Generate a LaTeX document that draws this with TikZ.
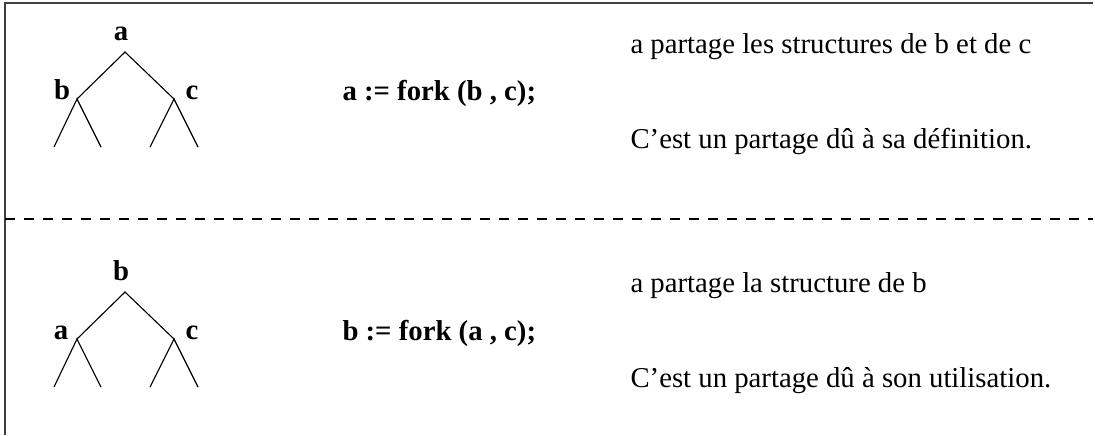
\documentclass[tikz,border=0pt]{standalone}
\usepackage{fontspec}
\setmainfont{Liberation Serif}
\begin{document}
\begin{tikzpicture}[x=0.4pt,y=-0.4pt,
  edge/.style={line width=0.45pt},
  border/.style={line width=0.8pt,draw=black!75},
  sep/.style={line width=0.6pt,dash pattern=on 4pt off 3.6pt},
  lbl/.style={inner sep=0pt,anchor=base,font=\fontsize{11.5}{14}\selectfont\bfseries},
  code/.style={inner sep=0pt,anchor=base west,font=\fontsize{11.5}{14}\selectfont\bfseries},
  txt/.style={inner sep=0pt,anchor=base west,font=\fontsize{11.5}{14}\selectfont}]
\useasboundingbox (0,0) rectangle (1095,435);
% frame
\coordinate (tl) at (5,3);
\coordinate (tr) at (1093,3);
\coordinate (bl) at (5,435);
\coordinate (sl) at (5,219);
\coordinate (sr) at (1093,219);
\draw[border] (tr) -- (tl) -- (bl);
\draw[sep] (sl) -- (sr);
% top tree
\coordinate (A1) at (125,52);
\coordinate (B1) at (77,99);
\coordinate (C1) at (174,99);
\coordinate (B1l) at (54,147);
\coordinate (B1r) at (101,147);
\coordinate (C1l) at (150,147);
\coordinate (C1r) at (198,147);
\draw[edge] (B1) -- (A1) -- (C1);
\draw[edge] (B1l) -- (B1) -- (B1r);
\draw[edge] (C1l) -- (C1) -- (C1r);
\node[lbl] (la1) at (121,40) {a};
\node[lbl] (lb1) at (62,99) {b};
\node[lbl] (lc1) at (192,99) {c};
\node[code] (code1) at (342,100) {a := fork (b , c);};
\node[txt] (t11) at (630,53) {a partage les structures de b et de c};
\node[txt] (t12) at (630,148) {C’est un partage dû à sa définition.};
% bottom tree
\coordinate (A2) at (125,292);
\coordinate (B2) at (77,339);
\coordinate (C2) at (174,339);
\coordinate (B2l) at (54,387);
\coordinate (B2r) at (101,387);
\coordinate (C2l) at (150,387);
\coordinate (C2r) at (198,387);
\draw[edge] (B2) -- (A2) -- (C2);
\draw[edge] (B2l) -- (B2) -- (B2r);
\draw[edge] (C2l) -- (C2) -- (C2r);
\node[lbl] (lb2) at (121,280) {b};
\node[lbl] (la2) at (61,339) {a};
\node[lbl] (lc2) at (192,339) {c};
\node[code] (code2) at (342,340) {b := fork (a , c);};
\node[txt] (t21) at (630,292) {a partage la structure de b};
\node[txt] (t22) at (630,387) {C’est un partage dû à son utilisation.};
\end{tikzpicture}
\end{document}
